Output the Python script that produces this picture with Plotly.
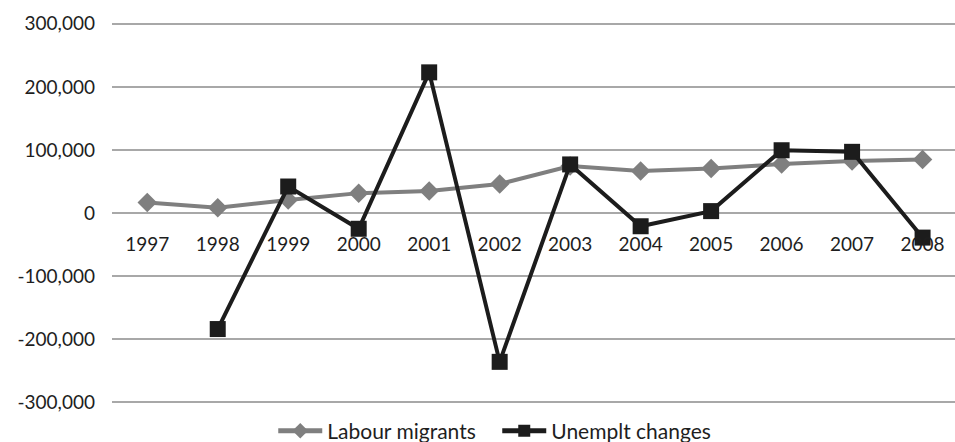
import plotly.graph_objects as go

years = ["1997", "1998", "1999", "2000", "2001", "2002",
         "2003", "2004", "2005", "2006", "2007", "2008"]
labour_migrants = [16500, 8500, 20500, 31500, 35000, 46000,
                   74500, 66500, 70500, 77500, 82500, 85000]
unemplt_changes = [None, -184000, 42000, -25000, 223000, -236000,
                   77000, -21000, 3000, 99500, 97000, -39000]
y_ticks = [-300000, -200000, -100000, 0, 100000, 200000, 300000]
y_tick_labels = ["-300,000", "-200,000", "-100,000", "0",
                 "100,000", "200,000", "300,000"]

FONT = "Lato"
TEXT = "#1e1e1e"
GRID = "#a8a8a8"

fig = go.Figure()
fig.add_trace(go.Scatter(
    x=years, y=labour_migrants, name="Labour migrants",
    mode="lines+markers",
    line=dict(color="#7f7f7f", width=4),
    marker=dict(symbol="diamond", size=15, color="#7f7f7f"),
))
fig.add_trace(go.Scatter(
    x=years, y=unemplt_changes, name="Unemplt changes",
    mode="lines+markers", connectgaps=False,
    line=dict(color="#1c1c1c", width=4),
    marker=dict(symbol="square", size=16, color="#1c1c1c"),
))

fig.update_layout(
    width=955, height=442,
    margin=dict(l=112, r=0, t=20, b=36, autoexpand=False),
    paper_bgcolor="white", plot_bgcolor="white",
    font=dict(family=FONT, size=19, color=TEXT),
    showlegend=True,
    legend=dict(orientation="h", x=0.457, xanchor="center",
                y=-0.065, yanchor="middle",
                font=dict(family=FONT, size=21, color=TEXT),
                itemsizing="constant", itemwidth=44, entrywidth=165,
                tracegroupgap=0),
    hovermode=False,
)
fig.update_xaxes(
    type="category", categoryorder="array", categoryarray=years,
    range=[-0.5, 11.46],
    anchor="free", position=0.5,
    showgrid=False, showline=False, zeroline=False,
    ticks="", ticklabelstandoff=18,
    tickfont=dict(family=FONT, size=19, color=TEXT),
)
fig.update_yaxes(
    range=[-306000, 306000],
    tickvals=y_ticks, ticktext=y_tick_labels,
    showgrid=True, gridcolor=GRID, gridwidth=1.5,
    zeroline=True, zerolinecolor=GRID, zerolinewidth=1.5,
    showline=False, ticks="", ticklabelstandoff=16,
    tickfont=dict(family=FONT, size=19, color=TEXT),
)

fig.write_html("out.html")
